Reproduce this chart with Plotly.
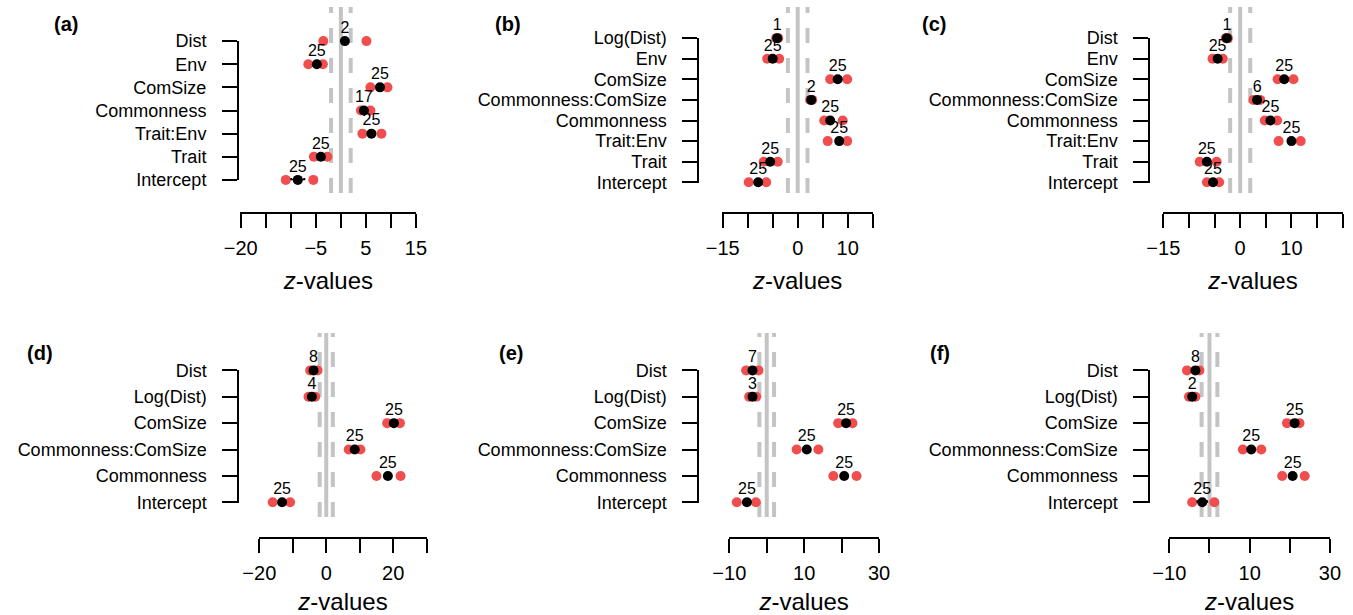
import plotly.graph_objects as go

W, H = 1353, 615
FONT = "Liberation Sans, Arial, Helvetica, sans-serif"
RED = "#F04E4E"
GRAY = "#C4C4C4"
Z_CRIT = 1.96

# ---------------- data ----------------
# (a)
a_labels = ["Dist", "Env", "ComSize", "Commonness", "Trait:Env", "Trait", "Intercept"]
a_lo = [-3.5, -6.5, 5.9, 4.0, 4.3, -5.4, -11.0]
a_hi = [5.1, -3.6, 9.3, 5.9, 8.1, -2.7, -5.5]
a_mean = [0.8, -4.8, 7.8, 4.6, 6.1, -4.0, -8.6]
a_n = [2, 25, 25, 17, 25, 25, 25]
a_ci = [0, 0, 0, 0, 0, 0, 1.3]
a_ticks = [-20, -15, -10, -5, 0, 5, 10, 15]
a_ticktext = ["\u221220", "", "", "\u22125", "", "5", "", "15"]

# (b)
b_labels = ["Log(Dist)", "Env", "ComSize", "Commonness:ComSize", "Commonness", "Trait:Env", "Trait", "Intercept"]
b_lo = [-4.3, -6.1, 6.5, 2.5, 5.3, 6.0, -6.8, -9.8]
b_hi = [-3.9, -3.7, 9.9, 2.9, 9.0, 9.9, -4.0, -6.3]
b_mean = [-4.1, -5.0, 8.0, 2.7, 6.5, 8.3, -5.5, -7.9]
b_n = [1, 25, 25, 2, 25, 25, 25, 25]
b_ci = [0, 0, 0, 0, 0, 0, 0, 0]
b_ticks = [-15, -10, -5, 0, 5, 10, 15]
b_ticktext = ["\u221215", "", "", "0", "", "10", ""]

# (c)
c_labels = ["Dist", "Env", "ComSize", "Commonness:ComSize", "Commonness", "Trait:Env", "Trait", "Intercept"]
c_lo = [-2.8, -5.4, 7.3, 2.6, 4.8, 7.5, -7.9, -6.5]
c_hi = [-2.4, -3.4, 10.4, 3.9, 7.2, 11.8, -4.6, -4.1]
c_mean = [-2.6, -4.4, 8.6, 3.3, 5.9, 10.0, -6.5, -5.3]
c_n = [1, 25, 25, 6, 25, 25, 25, 25]
c_ci = [0, 0, 0, 0, 0, 0, 0, 0]
c_ticks = [-15, -10, -5, 0, 5, 10, 15, 20]
c_ticktext = ["\u221215", "", "", "0", "", "10", "", ""]

# (d)
d_labels = ["Dist", "Log(Dist)", "ComSize", "Commonness:ComSize", "Commonness", "Intercept"]
d_lo = [-4.8, -5.3, 18.2, 6.7, 15.0, -16.0]
d_hi = [-2.6, -3.3, 22.0, 10.2, 22.2, -10.8]
d_mean = [-3.8, -4.3, 20.2, 8.5, 18.4, -13.2]
d_n = [8, 4, 25, 25, 25, 25]
d_ci = [0, 0, 0, 0, 0, 0]
d_ticks = [-20, -10, 0, 10, 20, 30]
d_ticktext = ["\u221220", "", "0", "", "20", ""]

# (e)
e_labels = ["Dist", "Log(Dist)", "ComSize", "Commonness:ComSize", "Commonness", "Intercept"]
e_lo = [-5.5, -4.7, 19.1, 8.0, 17.8, -8.0]
e_hi = [-2.2, -2.8, 22.9, 13.8, 24.0, -2.9]
e_mean = [-3.8, -3.8, 21.2, 10.7, 20.7, -5.3]
e_n = [7, 3, 25, 25, 25, 25]
e_ci = [0, 0, 0, 0, 0, 0]
e_ticks = [-10, 0, 10, 20, 30]
e_ticktext = ["\u221210", "", "10", "", "30"]

# (f)
f_labels = ["Dist", "Log(Dist)", "ComSize", "Commonness:ComSize", "Commonness", "Intercept"]
f_lo = [-5.6, -5.1, 19.3, 8.3, 18.1, -4.3]
f_hi = [-2.5, -3.5, 22.4, 12.9, 23.7, 1.2]
f_mean = [-3.5, -4.3, 21.2, 10.4, 20.7, -1.8]
f_n = [8, 2, 25, 25, 25, 25]
f_ci = [0, 0, 0, 0, 0, 1.2]
f_ticks = [-10, 0, 10, 20, 30]
f_ticktext = ["\u221210", "", "10", "", "30"]

panel_names = ["(a)", "(b)", "(c)", "(d)", "(e)", "(f)"]
panel_data = [
    (a_labels, a_lo, a_hi, a_mean, a_n, a_ci, a_ticks, a_ticktext),
    (b_labels, b_lo, b_hi, b_mean, b_n, b_ci, b_ticks, b_ticktext),
    (c_labels, c_lo, c_hi, c_mean, c_n, c_ci, c_ticks, c_ticktext),
    (d_labels, d_lo, d_hi, d_mean, d_n, d_ci, d_ticks, d_ticktext),
    (e_labels, e_lo, e_hi, e_mean, e_n, e_ci, e_ticks, e_ticktext),
    (f_labels, f_lo, f_hi, f_mean, f_n, f_ci, f_ticks, f_ticktext),
]

# ---------------- layout geometry (pixels) ----------------
geom = [
    dict(x0=240.7, x1=416.0, yline=238.0, ctop=40.7, cbot=180.3, gtop=7, gbot=193, xline=212.7, lab=(66, 24)),
    dict(x0=722.7, x1=872.7, yline=698.3, ctop=37.7, cbot=182.7, gtop=7, gbot=193, xline=212.7, lab=(508, 24)),
    dict(x0=1163.3, x1=1342.7, yline=1149.3, ctop=37.7, cbot=182.7, gtop=7, gbot=193, xline=212.7, lab=(934, 24)),
    dict(x0=259.3, x1=426.7, yline=238.3, ctop=370.0, cbot=502.7, gtop=333, gbot=517, xline=538.3, lab=(40, 353)),
    dict(x0=729.3, x1=879.0, yline=698.3, ctop=370.0, cbot=502.7, gtop=333, gbot=517, xline=538.3, lab=(511, 353)),
    dict(x0=1169.3, x1=1330.0, yline=1149.3, ctop=370.0, cbot=502.7, gtop=333, gbot=517, xline=538.3, lab=(940, 353)),
]

fig = go.Figure()
layout = dict(
    width=W, height=H,
    margin=dict(l=0, r=0, t=0, b=0, pad=0, autoexpand=False),
    paper_bgcolor="white", plot_bgcolor="rgba(0,0,0,0)",
    showlegend=False,
    font=dict(family=FONT, color="black"),
    annotations=[],
)

for k, (data, g, pname) in enumerate(zip(panel_data, geom, panel_names)):
    labels, lo, hi, mean, cnt, ci, ticks, ticktext = data
    n = len(labels)
    xi = k + 1
    yg = 2 * k + 1
    yd = 2 * k + 2
    xname = "x" if xi == 1 else f"x{xi}"
    ygname = "y" if yg == 1 else f"y{yg}"
    ydname = f"y{yd}"
    ypos = [n - i for i in range(n)]

    xmin, xmax = ticks[0], ticks[-1]
    pad = 0.002 * (xmax - xmin)
    s = (g["x1"] - g["x0"]) / (xmax - xmin)

    # reference lines at 0 and +/- critical z
    fig.add_trace(go.Scatter(x=[0, 0], y=[0, 1], mode="lines",
                             line=dict(color=GRAY, width=4),
                             xaxis=xname, yaxis=ygname, hoverinfo="skip"))
    for zc in (-Z_CRIT, Z_CRIT):
        fig.add_trace(go.Scatter(x=[zc, zc], y=[0, 1], mode="lines",
                                 line=dict(color=GRAY, width=4, dash="15px,15px"),
                                 xaxis=xname, yaxis=ygname, hoverinfo="skip"))

    # red range points
    fig.add_trace(go.Scatter(x=lo + hi, y=ypos + ypos, mode="markers",
                             marker=dict(color=RED, size=10, line=dict(width=0)),
                             cliponaxis=False, xaxis=xname, yaxis=ydname))
    # black mean points
    fig.add_trace(go.Scatter(x=mean, y=ypos, mode="markers",
                             marker=dict(color="black", size=10, line=dict(width=0)),
                             error_x=dict(type="data", array=ci, arrayminus=ci,
                                          color="black", thickness=2, width=2, visible=True),
                             cliponaxis=False, xaxis=xname, yaxis=ydname))
    # counts above the mean points
    fig.add_trace(go.Scatter(x=mean, y=ypos, mode="markers+text",
                             marker=dict(size=5, opacity=0),
                             text=[str(c) for c in cnt], textposition="top center",
                             textfont=dict(size=16, color="black", family=FONT),
                             cliponaxis=False, xaxis=xname, yaxis=ydname, hoverinfo="skip"))

    layout["xaxis" if xi == 1 else f"xaxis{xi}"] = dict(
        domain=[(g["x0"] - pad * s) / W, (g["x1"] + pad * s) / W],
        range=[xmin - pad, xmax + pad],
        anchor="free", position=1 - g["xline"] / H,
        showline=True, linecolor="black", linewidth=2,
        ticks="outside", ticklen=14, tickwidth=2, tickcolor="black",
        tickmode="array", tickvals=ticks, ticktext=ticktext,
        tickfont=dict(size=20, family=FONT, color="black"),
        ticklabelstandoff=3,
        showgrid=False, zeroline=False, fixedrange=True, automargin=False,
        title=dict(text="<i>z</i>-values", font=dict(size=24, family=FONT, color="black"), standoff=13),
    )
    layout["yaxis" if yg == 1 else f"yaxis{yg}"] = dict(
        domain=[1 - g["gbot"] / H, 1 - g["gtop"] / H], range=[0, 1],
        anchor=xname, visible=False, fixedrange=True, automargin=False,
    )
    eps = 0.003 * (n - 1)
    layout[f"yaxis{yd}"] = dict(
        domain=[1 - g["cbot"] / H, 1 - g["ctop"] / H],
        range=[1 - eps, n + eps],
        anchor="free", position=g["yline"] / W,
        showline=True, linecolor="black", linewidth=2,
        ticks="outside", ticklen=15, tickwidth=2, tickcolor="black",
        tickmode="array", tickvals=ypos, ticktext=labels,
        tickfont=dict(size=18, family=FONT, color="black"),
        ticklabelstandoff=12,
        showgrid=False, zeroline=False, fixedrange=True, automargin=False,
    )
    layout["annotations"].append(dict(
        text=f"<b>{pname}</b>", x=g["lab"][0] / W, y=1 - g["lab"][1] / H,
        xref="paper", yref="paper", showarrow=False,
        font=dict(size=20, family=FONT, color="black"),
        xanchor="center", yanchor="middle"))

fig.update_layout(**layout)
fig.write_html("out.html", config={"displayModeBar": False},
               post_script="document.body.style.margin='0';document.body.style.overflow='hidden';")
